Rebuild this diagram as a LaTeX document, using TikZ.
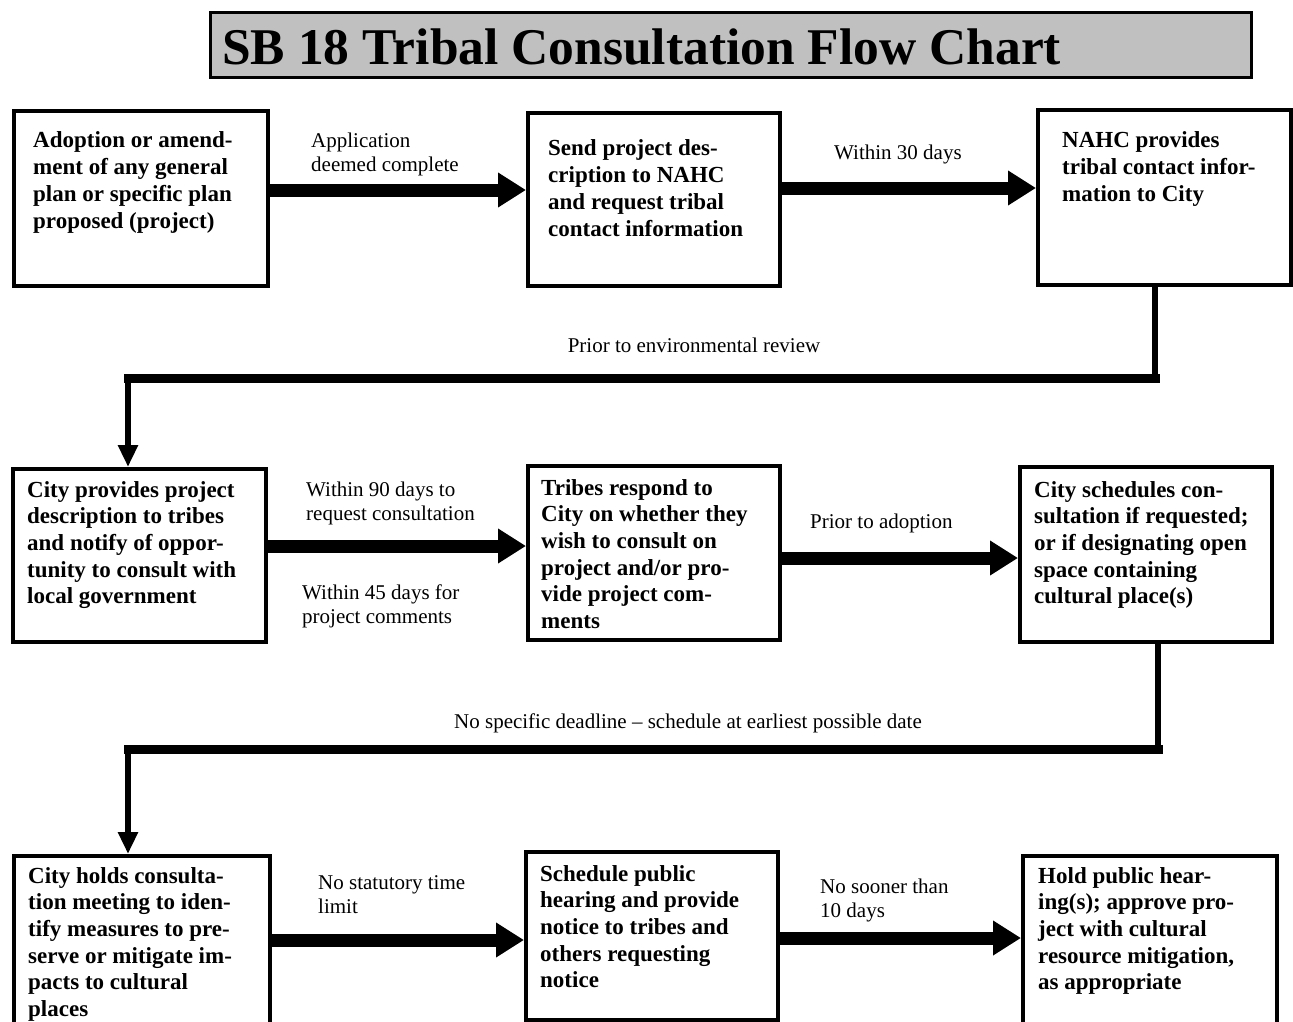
\documentclass[tikz,border=0pt]{standalone}
\usepackage{fontspec}
\setmainfont{Liberation Serif}
\usetikzlibrary{arrows.meta}
\newcommand\mlines[1]{\begin{tabular}[t]{@{}l@{}}#1\end{tabular}}
\begin{document}
\begin{tikzpicture}[x=1pt,y=-1pt,
  boxnode/.style={draw=black, line width=4pt, inner sep=0pt, anchor=north west},
  btext/.style={anchor=base west, inner sep=0pt, font=\fontsize{23}{26.7}\selectfont\bfseries},
  ltext/.style={anchor=base west, inner sep=0pt, font=\fontsize{21}{24.5}\selectfont},
  bigarrow/.style={line width=13pt, -{Triangle[length=28pt,width=33pt]}},
  thinconn/.style={line width=6pt},
  wideconn/.style={line width=9pt, line cap=rect},
  downarrow/.style={line width=6pt, -{Triangle[length=22pt,width=19pt]}}
]
\useasboundingbox (0,0) rectangle (1293,1022);
\clip (0,0) rectangle (1293,1022);
\fill[white] (0,0) rectangle (1293,1022);

% title
\node[draw=black, fill={rgb,255:red,192;green,192;blue,192}, line width=3pt, inner sep=0pt,
      anchor=north west, minimum width=1041pt, minimum height=65pt] (T) at (208.5,11.5) {};
\node[anchor=base west, inner sep=0pt, font=\fontsize{51.5}{60}\selectfont\bfseries] (Tt) at (222,65)
  {SB 18 Tribal Consultation Flow Chart};

% boxes
\node[boxnode, minimum width=254pt, minimum height=175pt] (A) at (12,109) {};
\node[boxnode, minimum width=252pt, minimum height=173pt] (B) at (526,111) {};
\node[boxnode, minimum width=253pt, minimum height=175pt] (C) at (1036,108) {};
\node[boxnode, minimum width=253pt, minimum height=173pt] (D) at (11,467) {};
\node[boxnode, minimum width=252pt, minimum height=174pt] (E) at (526,464) {};
\node[boxnode, minimum width=252pt, minimum height=175pt] (F) at (1018,465) {};
\node[boxnode, minimum width=256pt, minimum height=206pt] (G) at (12,854) {};
\node[boxnode, minimum width=252pt, minimum height=168pt] (H) at (524,850) {};
\node[boxnode, minimum width=254pt, minimum height=206pt] (I) at (1021,854) {};

% box texts
\node[btext] (At) at (33,148) {\mlines{Adoption or amend-\\ment of any general\\plan or specific plan\\proposed (project)}};
\node[btext] (Bt) at (548,156) {\mlines{Send project des-\\cription to NAHC\\and request tribal\\contact information}};
\node[btext] (Ct) at (1062,148) {\mlines{NAHC provides\\tribal contact infor-\\mation to City}};
\node[btext] (Dt) at (27,497) {\mlines{City provides project\\description to tribes\\and notify of oppor-\\tunity to consult with\\local government}};
\node[btext] (Et) at (541,495) {\mlines{Tribes respond to\\City on whether they\\wish to consult on\\project and/or pro-\\vide project com-\\ments}};
\node[btext] (Ft) at (1034,497) {\mlines{City schedules con-\\sultation if requested;\\or if designating open\\space containing\\cultural place(s)}};
\node[btext] (Gt) at (28,883) {\mlines{City holds consulta-\\tion meeting to iden-\\tify measures to pre-\\serve or mitigate im-\\pacts to cultural\\places}};
\node[btext] (Ht) at (540,881) {\mlines{Schedule public\\hearing and provide\\notice to tribes and\\others requesting\\notice}};
\node[btext] (It) at (1038,883) {\mlines{Hold public hear-\\ing(s); approve pro-\\ject with cultural\\resource mitigation,\\as appropriate}};

% horizontal arrows
\draw[bigarrow] (A.east |- 0,190) -- (B.west |- 0,190);
\draw[bigarrow] (B.east |- 0,188) -- (C.west |- 0,188);
\draw[bigarrow] (D.east |- 0,546) -- (E.west |- 0,546);
\draw[bigarrow] (E.east |- 0,558) -- (F.west |- 0,558);
\draw[bigarrow] (G.east |- 0,940) -- (H.west |- 0,940);
\draw[bigarrow] (H.east |- 0,938) -- (I.west |- 0,938);

% connector C -> D
\coordinate (k1) at (1155,378);
\coordinate (k2) at (128,378);
\draw[thinconn] (k1 |- C.south) -- (k1);
\draw[wideconn] (k1) -- (k2);
\draw[downarrow] (k2) -- (k2 |- D.north);

% connector F -> G
\coordinate (m1) at (1158,749);
\coordinate (m2) at (128,749);
\draw[thinconn] (m1 |- F.south) -- (m1);
\draw[wideconn] (m1) -- (m2);
\draw[downarrow] (m2) -- (m2 |- G.north);

% labels
\node[ltext] (L1) at (311,147) {\mlines{Application\\deemed complete}};
\node[ltext] (L2) at (834,160) {Within 30 days};
\node[ltext, anchor=base] (L3) at (694,352) {Prior to environmental review};
\node[ltext] (L4) at (306,496) {\mlines{Within 90 days to\\request consultation}};
\node[ltext] (L5) at (302,599) {\mlines{Within 45 days for\\project comments}};
\node[ltext] (L6) at (810,528) {Prior to adoption};
\node[ltext, anchor=base] (L7) at (688,728) {No specific deadline – schedule at earliest possible date};
\node[ltext] (L8) at (318,889) {\mlines{No statutory time\\limit}};
\node[ltext] (L9) at (820,893) {\mlines{No sooner than\\10 days}};
\end{tikzpicture}
\end{document}
